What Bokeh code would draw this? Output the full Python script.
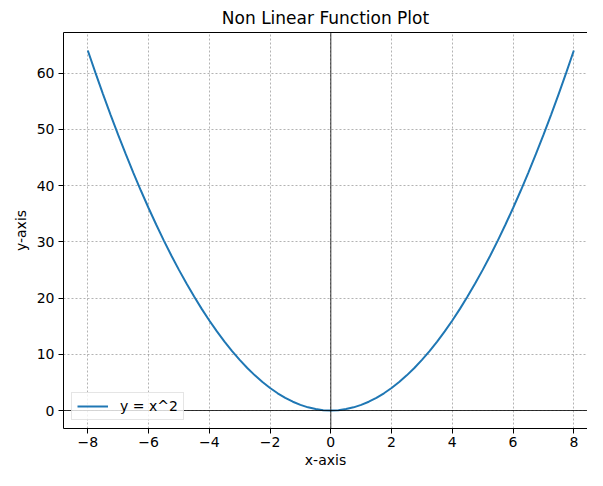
from bokeh.plotting import figure
from bokeh.models import Range1d, LinearAxis, FixedTicker, CustomJSTickFormatter, Span, Legend, LegendItem
from bokeh.embed import file_html
from bokeh.resources import INLINE

# Data
x_vals = [-8, -7.75, -7.5, -7.25, -7, -6.75, -6.5, -6.25, -6, -5.75, -5.5, -5.25, -5, -4.75,
          -4.5, -4.25, -4, -3.75, -3.5, -3.25, -3, -2.75, -2.5, -2.25, -2, -1.75, -1.5, -1.25,
          -1, -0.75, -0.5, -0.25, 0, 0.25, 0.5, 0.75, 1, 1.25, 1.5, 1.75, 2, 2.25, 2.5, 2.75,
          3, 3.25, 3.5, 3.75, 4, 4.25, 4.5, 4.75, 5, 5.25, 5.5, 5.75, 6, 6.25, 6.5, 6.75,
          7, 7.25, 7.5, 7.75, 8]
y_vals = [64, 60.0625, 56.25, 52.5625, 49, 45.5625, 42.25, 39.0625, 36, 33.0625, 30.25, 27.5625,
          25, 22.5625, 20.25, 18.0625, 16, 14.0625, 12.25, 10.5625, 9, 7.5625, 6.25, 5.0625,
          4, 3.0625, 2.25, 1.5625, 1, 0.5625, 0.25, 0.0625, 0, 0.0625, 0.25, 0.5625, 1, 1.5625,
          2.25, 3.0625, 4, 5.0625, 6.25, 7.5625, 9, 10.5625, 12.25, 14.0625, 16, 18.0625,
          20.25, 22.5625, 25, 27.5625, 30.25, 33.0625, 36, 39.0625, 42.25, 45.5625, 49,
          52.5625, 56.25, 60.0625, 64]
x_ticks = [-8, -6, -4, -2, 0, 2, 4, 6, 8]
y_ticks = [0, 10, 20, 30, 40, 50, 60]
title_text = "Non Linear Function Plot"
x_label = "x-axis"
y_label = "y-axis"
legend_label = "y = x^2"

FONT = "DejaVu Sans"

p = figure(width=587, height=470, output_backend="svg", toolbar_location=None,
           x_range=Range1d(-8.8, 8.45), y_range=Range1d(-3.2, 67.2),
           min_border_left=63, min_border_right=0, min_border_top=23, min_border_bottom=33,
           x_axis_label=x_label, y_axis_label=y_label)

p.title.text = title_text
p.title.align = "center"
p.title.text_font = FONT
p.title.text_font_size = "17px"
p.title.text_font_style = "normal"
p.title.text_color = "#000000"

p.outline_line_color = None
p.background_fill_color = "white"
p.border_fill_color = "white"

fmt = CustomJSTickFormatter(code="return tick < 0 ? '\u2212' + (-tick) : tick.toString();")

for ax, ticks in ((p.xaxis[0], x_ticks), (p.yaxis[0], y_ticks)):
    ax.ticker = FixedTicker(ticks=ticks)
    ax.formatter = fmt
    ax.major_tick_out = 5
    ax.major_tick_in = 0
    ax.minor_tick_line_color = None
    ax.major_tick_line_color = "#000000"
    ax.axis_line_color = "#000000"
    ax.axis_line_width = 1
    ax.major_label_text_font = FONT
    ax.major_label_text_font_size = "14px"
    ax.major_label_text_color = "#000000"
    ax.axis_label_text_font = FONT
    ax.axis_label_text_font_size = "14px"
    ax.axis_label_text_font_style = "normal"
    ax.axis_label_text_color = "#000000"

p.xaxis[0].major_label_standoff = 3
p.xaxis[0].axis_label_standoff = 2
p.yaxis[0].major_label_standoff = 4
p.yaxis[0].axis_label_standoff = 5

# top spine
top = LinearAxis(major_tick_line_color=None, minor_tick_line_color=None,
                 major_label_text_font_size="0px", axis_line_color="#000000", axis_line_width=1)
top.ticker = FixedTicker(ticks=[])
p.add_layout(top, "above")

for g, ticks in ((p.xgrid[0], x_ticks), (p.ygrid[0], y_ticks)):
    g.ticker = FixedTicker(ticks=ticks)
    g.grid_line_color = "#808080"
    g.grid_line_width = 0.6
    g.grid_line_dash = "2 2"
    g.grid_line_alpha = 1.0

p.add_layout(Span(location=0, dimension="width", line_color="#000000", line_width=0.8))
p.add_layout(Span(location=0, dimension="height", line_color="#000000", line_width=0.8))

r = p.line(x_vals, y_vals, line_color="#1f77b4", line_width=2)

legend = Legend(items=[LegendItem(label=legend_label, renderers=[r])], location="bottom_left")
legend.label_text_font = FONT
legend.label_text_font_size = "14px"
legend.label_text_color = "#000000"
legend.glyph_width = 31
legend.glyph_height = 16
legend.label_standoff = 12
legend.border_line_color = "#cccccc"
legend.border_line_width = 1
legend.background_fill_alpha = 0.8
legend.margin = 8
legend.padding = 5
legend.spacing = 0
p.add_layout(legend)

open("out.html", "w").write(file_html(p, INLINE))
